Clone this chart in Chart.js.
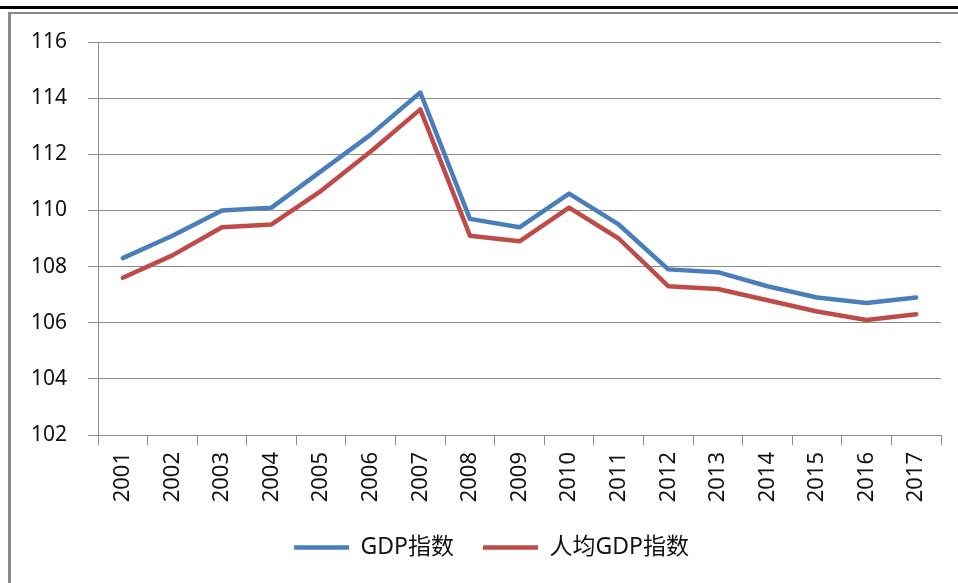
<!DOCTYPE html>
<html>
<head>
<meta charset="utf-8">
<script src="https://cdn.jsdelivr.net/npm/chart.js@4/dist/chart.umd.min.js"></script>
<style>
  body { margin: 0; background: #fff; }
  #wrap { position: relative; width: 958px; height: 583px; overflow: hidden; }
  .topBlack { position: absolute; left: 0; top: 6px; width: 958px; height: 3px; background: #000; }
  .topGray { position: absolute; left: 8px; top: 12px; width: 950px; height: 2px; background: #8a8a8a; }
  .leftGray { position: absolute; left: 8px; top: 12px; width: 3px; height: 571px; background: #8a8a8a; }
  canvas { position: absolute; left: 0; top: 0; }
</style>
</head>
<body>
<div id="wrap">
  <div class="topBlack"></div>
  <div class="topGray"></div>
  <div class="leftGray"></div>
  <canvas id="myChart" width="958" height="583"></canvas>
</div>
<script>
// data
const years = ['2001','2002','2003','2004','2005','2006','2007','2008','2009','2010','2011','2012','2013','2014','2015','2016','2017']
const gdpIndex = [108.3, 109.1, 110.0, 110.1, 111.4, 112.7, 114.2, 109.7, 109.4, 110.6, 109.5, 107.9, 107.8, 107.3, 106.9, 106.7, 106.9]
const perCapitaIndex = [107.6, 108.4, 109.4, 109.5, 110.7, 112.1, 113.6, 109.1, 108.9, 110.1, 109.0, 107.3, 107.2, 106.8, 106.4, 106.1, 106.3]
const seriesNames = ['GDP指数', '人均GDP指数']
const yMin = 102, yMax = 116, yStep = 2

const fontFamily = "'Noto Sans', 'Noto Sans CJK SC', sans-serif"
const gridColor = '#8c8c8c'

function lineSet(label, data, color) {
    return {
        label: label,
        data: data,
        borderColor: color,
        backgroundColor: color,
        borderWidth: 4.5,
        borderCapStyle: 'round',
        borderJoinStyle: 'round',
        pointRadius: 0,
        pointHoverRadius: 0,
        pointStyle: 'line',
        tension: 0
    }
}

// legend in the original sits a little right of centre
const legendShift = {
    id: 'legendShift',
    afterLayout(chart) {
        if (chart.legend) {
            chart.legend.left += 15
            chart.legend.right += 15
        }
    }
}

const myChart = new Chart(document.getElementById('myChart'), {
    type: 'line',
    data: {
        labels: years,
        datasets: [
            lineSet(seriesNames[0], gdpIndex, '#4a7ebb'),
            lineSet(seriesNames[1], perCapitaIndex, '#be4b48')
        ]
    },
    plugins: [legendShift],
    options: {
        responsive: false,
        animation: false,
        layout: { padding: { left: 12, right: 17, top: 42, bottom: 14 } },
        plugins: {
            tooltip: { enabled: false },
            legend: {
                position: 'bottom',
                labels: {
                    usePointStyle: true,
                    pointStyleWidth: 55,
                    boxHeight: 23,
                    padding: 29,
                    color: '#111',
                    font: { family: fontFamily, size: 23 }
                }
            }
        },
        scales: {
            x: {
                offset: true,
                afterFit: function (scale) { scale.height = 72 },
                grid: {
                    offset: true,
                    drawOnChartArea: false,
                    drawTicks: true,
                    tickLength: 10,
                    color: gridColor
                },
                border: { color: gridColor, width: 1 },
                ticks: {
                    maxRotation: 90,
                    minRotation: 90,
                    autoSkip: false,
                    padding: 7,
                    color: '#111',
                    font: { family: fontFamily, size: 22 }
                }
            },
            y: {
                min: yMin,
                max: yMax,
                afterFit: function (scale) { scale.width = 86 },
                grid: { color: gridColor, tickLength: 10 },
                border: { color: gridColor, width: 1 },
                ticks: {
                    stepSize: yStep,
                    padding: 21,
                    color: '#111',
                    font: { family: fontFamily, size: 21 }
                }
            }
        }
    }
})
</script>
</body>
</html>
